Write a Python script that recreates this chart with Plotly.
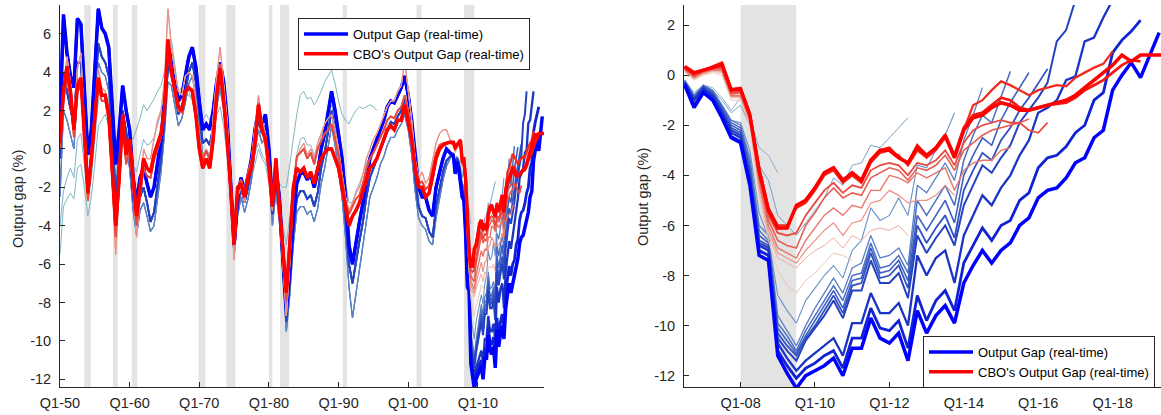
import numpy as np
import plotly.graph_objects as go

# ---------------- data ----------------
HIST_START, HIST_STEP = 1950.0, 0.5        # semi-annual history 1950.0 .. 2006.0
RECENT_START, RECENT_STEP = 2006.5, 0.25   # quarterly vintages from 2006Q3

# history segments (Output gap, %)
hist_blue_latest = [1.5, 7.0, 5.0, 3.8, 3.2, 6.8, 6.5, 3.0, -0.3, 1.0,
                    4.5, 7.3, 6.3, 6.0, 5.3, 2.5, -0.8, 1.0, 3.3, 2.0,
                    1.0, -1.5, -2.8, -1.5, -1.0, -1.8, -2.5, -2.0, -0.8, 0.5,
                    2.5, 5.3, 4.8, 3.5, 2.5, 2.8, 3.8, 4.8, 5.3, 4.3,
                    2.5, 1.0, 1.3, 1.0, 2.0, 3.5, 4.5, 3.5, 1.5, -1.5,
                    -5.0, -2.5, -1.5, -2.3, -1.5, -0.5, 1.0, 2.0, 1.3, 1.8,
                    0.0, -2.8, -1.0, -2.5, -5.5, -8.3, -6.3, -3.5, -1.8, -1.3,
                    -1.2, -1.6, -1.3, -2.0, -1.2, 0.0, 0.8, 2.0, 3.0, 2.0,
                    0.8, -0.5, -2.5, -5.0, -6.0, -4.8, -3.8, -2.8, -1.5, -0.5,
                    0.0, 0.5, 1.0, 1.5, 2.2, 2.5, 2.4, 2.8, 3.2, 3.8,
                    2.8, 1.5, -0.5, -2.0, -2.5, -2.5, -3.2, -3.5, -2.0, -1.2,
                    -0.5, 0.0, -0.2]
hist_blue_mid = [-0.5, 4.0, 3.0, 2.0, 1.2, 4.5, 4.5, 1.5, -1.8, -0.3,
                 2.8, 5.5, 4.8, 4.5, 3.8, 1.0, -2.5, -0.5, 2.0, 0.8,
                 -0.2, -2.5, -3.8, -2.5, -2.0, -2.8, -3.8, -3.3, -1.8, -0.5,
                 1.5, 4.3, 4.0, 2.8, 1.8, 2.2, 3.0, 4.0, 4.5, 3.5,
                 1.8, 0.3, 0.5, 0.2, 1.2, 2.8, 3.8, 2.8, 0.8, -2.2,
                 -5.3, -3.0, -2.0, -2.8, -2.0, -1.0, 0.5, 1.5, 0.8, 1.2,
                 -0.6, -3.4, -1.6, -3.2, -6.2, -9.0, -7.0, -4.3, -2.6, -2.2,
                 -2.2, -2.6, -2.4, -3.0, -2.3, -1.0, -0.2, 1.0, 2.0, 1.0,
                 -0.3, -1.6, -3.6, -6.0, -7.0, -5.8, -4.8, -3.8, -2.5, -1.5,
                 -1.0, -0.6, 0.0, 0.4, 1.0, 1.4, 1.3, 1.7, 2.0, 2.6,
                 1.8, 0.5, -1.5, -3.0, -3.5, -3.6, -4.3, -4.6, -3.0, -2.0,
                 -1.2, -0.6, -0.4]
hist_blue_light = [-2.5, 2.0, 1.5, 0.8, 0.0, 3.0, 3.2, 0.5, -2.5, -1.0,
                   1.8, 4.5, 4.0, 3.8, 3.0, 0.2, -3.2, -1.2, 1.2, 0.0,
                   -1.0, -3.2, -4.5, -3.2, -2.8, -3.5, -4.3, -4.0, -2.5, -1.2,
                   0.8, 3.5, 3.3, 2.2, 1.2, 1.6, 2.4, 3.4, 3.8, 2.8,
                   1.2, -0.3, -0.1, -0.4, 0.6, 2.2, 3.2, 2.2, 0.2, -2.8,
                   -5.6, -3.5, -2.5, -3.3, -2.6, -1.6, -0.1, 1.0, 0.3, 0.6,
                   -1.2, -4.0, -2.2, -3.8, -6.8, -9.5, -7.6, -5.0, -3.3, -3.0,
                   -3.0, -3.4, -3.2, -3.8, -3.1, -1.8, -1.0, 0.2, 1.2, 0.2,
                   -1.2, -2.5, -4.6, -7.2, -8.8, -7.5, -6.2, -5.0, -3.6, -2.5,
                   -2.0, -1.5, -0.8, -0.4, 0.2, 0.6, 0.6, 1.0, 1.3, 1.8,
                   1.0, -0.3, -2.2, -3.6, -4.0, -4.2, -4.8, -5.0, -3.6, -2.5,
                   -1.6, -0.9, -0.5]
hist_teal_old = [-5.5, -3.0, -2.6, -2.3, -2.6, -1.0, -0.8, -2.0, -3.5, -2.5,
                 -0.8, 1.2, 1.5, 1.8, 1.2, 0.0, -1.5, 0.0, 1.5, 1.0,
                 0.8, 0.5, 1.0, 1.6, 2.3, 2.0, 2.3, 2.6, 3.0, 3.3,
                 4.0, 5.0, 5.7, 4.3, 3.0, 3.2, 3.5, 3.0, 2.5, 1.8,
                 1.2, 1.5, 1.8, 1.5, 2.0, 2.8, 3.0, 2.0, 0.0, -1.5,
                 -3.3, -2.5, -1.5, -1.8, -1.3, -0.8, -0.3, 0.3, -0.3, -0.6,
                 -1.2, -1.8, -1.5, -1.8, -2.0, -2.0, -0.8, 0.5, 1.8, 2.8,
                 3.0, 2.6, 2.7, 2.3, 2.6, 3.0, 3.5, 3.8, 4.1, 3.4,
                 2.5, 1.8, 1.5, 1.3, 1.7, 2.0, 2.2, 2.1, 2.2, 2.3,
                 2.2, 2.0]
hist_steel_old = [-4.0, -2.2, -1.5, -1.0, -1.5, 0.5, 0.8, -0.8, -2.5, -1.5,
                  0.5, 2.5, 2.8, 2.8, 2.0, 0.5, -2.0, -0.5, 1.0, 0.3,
                  0.0, -0.8, -1.2, -0.3, 0.5, 0.2, 0.3, 0.6, 1.2, 1.8,
                  2.5, 3.8, 4.2, 3.3, 2.2, 2.3, 2.8, 2.8, 2.6, 1.5,
                  0.0, -0.5, 0.0, -0.3, 0.5, 1.8, 2.2, 1.2, -0.5, -2.0,
                  -3.8, -2.8, -2.0, -2.5, -2.0, -1.5, -0.8, 0.0, -0.5, -0.8,
                  -1.8, -3.0, -2.3, -3.0, -4.0, -5.0, -3.5, -1.8, -0.3, 0.5,
                  0.6, 0.2, 0.2, -0.3, 0.0, 0.6, 1.2, 1.8, 2.3, 1.5,
                  0.5, -0.5, -1.8, -2.8, -2.8, -2.2, -1.8, -1.3, -0.8, -0.3,
                  0.0, 0.3, 0.6, 0.9, 1.2, 1.5, 1.3, 1.5, 1.6, 2.0,
                  1.3, 0.2, -1.5, -2.5]
hist_red_latest = [0.3, 3.0, 4.3, 3.0, 1.0, 3.3, 3.7, 1.0, -2.3, -0.5,
                   1.8, 3.7, 2.8, 2.8, 1.8, -1.0, -4.0, -1.5, 1.8, -0.3,
                   0.5, -1.5, -3.5, -2.0, -0.5, -1.0, -1.2, -0.3, 0.3, 0.8,
                   2.0, 5.7, 4.0, 3.0, 2.2, 2.0, 3.0, 3.2, 3.0, 1.8,
                   0.0, -1.0, -0.5, -1.0, 0.5, 2.8, 4.2, 2.5, 0.5, -2.0,
                   -5.0, -2.0, -1.8, -2.5, -1.5, -1.0, 0.3, 2.3, 1.0, 0.5,
                   -1.0, -3.0, -0.5, -3.0, -5.0, -7.5, -5.0, -2.0, -1.0, -1.2,
                   -1.0, -1.5, -1.2, -1.8, -1.0, -0.5, -0.2, 0.0, 0.0, -0.5,
                   -1.0, -2.0, -3.0, -4.0, -3.5, -3.2, -2.8, -2.2, -1.5, -1.0,
                   -0.8, -0.5, 0.0, 0.5, 1.0, 1.2, 1.0, 1.5, 1.5, 2.3,
                   1.5, 0.5, -1.0, -2.0, -2.0, -2.5, -2.3, -1.5, -0.5, 0.0,
                   0.2, 0.3, 0.35]
hist_red_mid = [0.0, 2.5, 3.8, 2.6, 0.6, 3.0, 3.4, 0.6, -2.7, -0.9,
                1.4, 3.3, 2.5, 2.5, 1.4, -1.5, -4.6, -2.0, 1.2, -0.8,
                0.0, -2.0, -4.0, -2.5, -1.0, -1.4, -1.5, -0.6, 0.0, 0.6,
                1.8, 5.4, 3.8, 2.8, 2.0, 1.9, 2.9, 3.2, 3.1, 2.0,
                0.3, -0.6, -0.1, -0.6, 0.9, 3.0, 4.4, 2.8, 0.8, -1.8,
                -4.8, -2.0, -1.6, -2.2, -1.2, -0.6, 0.7, 2.4, 1.2, 0.7,
                -0.7, -2.7, -0.5, -2.8, -5.2, -7.9, -5.3, -2.0, -0.4, -0.2,
                0.0, -0.5, -0.2, -0.8, 0.0, 0.4, 0.8, 1.0, 1.3, 0.5,
                -0.3, -1.5, -2.8, -3.4, -3.0, -2.6, -2.4, -1.8, -1.0, -0.5,
                -0.2, 0.2, 0.6, 1.0, 1.5, 1.7, 1.6, 2.0, 2.2, 2.8,
                2.0, 0.8, -0.9, -1.8, -1.7, -2.1, -1.9, -1.1, -0.2, 0.2,
                0.3, 0.3, 0.3]
hist_red_pale = [0.5, 3.3, 4.8, 3.5, 1.5, 4.2, 5.0, 1.5, -2.5, -0.5,
                 2.0, 4.2, 3.2, 3.0, 1.8, -1.5, -5.5, -2.0, 1.5, -0.5,
                 0.5, -2.0, -4.6, -2.5, 0.0, -0.5, -0.5, 0.5, 1.5, 2.0,
                 3.5, 7.3, 5.3, 4.0, 3.0, 2.8, 3.8, 4.0, 3.8, 2.5,
                 0.5, -0.5, 0.0, -0.5, 1.5, 3.8, 5.3, 3.5, 1.5, -1.5,
                 -5.8, -2.5, -2.0, -2.8, -1.5, -0.5, 1.0, 2.8, 1.5, 0.8,
                 -0.8, -3.2, -0.5, -3.2, -5.8, -8.7, -6.0, -2.5, -0.5, 0.0,
                 0.3, -0.3, 0.0, -0.5, 0.3, 0.8, 1.3, 1.6, 1.8, 1.0,
                 0.0, -1.3, -2.5, -3.2, -2.8, -2.3, -2.0, -1.3, -0.5, 0.0,
                 0.5, 0.8, 1.3, 1.8, 2.2, 2.5, 2.5, 3.0, 3.3, 4.6,
                 3.0, 1.5, -0.5, -1.5, -1.2, -1.8, -1.5, -0.5, 0.3, 0.8,
                 1.0, 1.0, 0.5]

# quarterly vintages, 2006Q3 onward (Output Gap, real-time)
og_v1 = [-0.2, -0.7, -0.4, -0.5, -0.9, -1.4, -0.9, -1.7, -2.9, -3.2, -3.9]
og_v2 = [-0.2, -0.8, -0.4, -0.6, -1.0, -1.5, -1.2, -2.0, -3.6, -4.2,
         -5.6, -6.0, -6.4, -5.9, -5.4, -4.9, -4.1, -4.4, -3.6, -3.5,
         -2.8, -2.9, -2.5, -2.1, -1.7]
og_v3 = [-0.25, -0.9, -0.5, -0.7, -1.2, -1.8, -1.9, -3.0, -5.5, -6.5,
         -8.8, -9.4, -9.9, -9.0, -8.5, -8.0, -7.6, -8.1, -7.0, -6.6,
         -5.3, -5.8, -5.6, -4.9, -5.6, -3.6, -3.7, -3.0, -2.4, -1.5]
og_v4 = [-0.2, -0.8, -0.4, -0.6, -1.2, -1.8, -2.0, -3.3, -6.0, -6.4,
         -9.6, -10.2, -10.8, -10.0, -9.3, -8.7, -8.1, -8.7, -7.7, -7.5,
         -6.4, -7.3, -7.2, -6.9, -7.6, -4.4, -4.7, -4.1, -3.5, -4.2,
         -2.6, -1.6, -0.5]
og_v5 = [-0.25, -0.85, -0.45, -0.65, -1.25, -1.9, -2.1, -3.5, -6.2, -6.6,
         -9.9, -10.4, -11.0, -10.2, -9.6, -9.0, -8.4, -9.0, -8.0, -7.9,
         -6.7, -7.7, -7.6, -7.2, -7.9, -5.0, -5.6, -5.0, -4.4, -5.2,
         -3.4, -2.4, -1.6, -1.9, -0.9, 0.15]
og_v6 = [-0.25, -0.9, -0.45, -0.7, -1.3, -2.0, -2.2, -3.7, -6.4, -6.7,
         -10.1, -10.6, -11.1, -10.4, -9.8, -9.2, -8.6, -9.3, -8.2, -8.1,
         -6.9, -7.9, -7.8, -7.4, -8.2, -5.6, -6.2, -5.6, -5.0, -5.9,
         -4.0, -3.2, -2.5, -2.8, -1.8, -1.1, -0.5, 0.1]
og_v7 = [-0.3, -0.95, -0.5, -0.75, -1.4, -2.1, -2.3, -3.9, -6.6, -6.8,
         -10.3, -10.8, -11.2, -10.5, -10.0, -9.4, -8.8, -9.5, -8.4, -8.3,
         -7.1, -8.1, -8.0, -7.6, -8.5, -6.0, -6.7, -6.1, -5.6, -6.5,
         -4.6, -3.8, -3.1, -3.4, -2.6, -2.1, -1.4, -0.9, -0.3, 0.25]
og_v8 = [-0.3, -1.0, -0.5, -0.8, -1.45, -2.2, -2.4, -4.0, -6.7, -6.9,
         -10.5, -11.0, -11.4, -10.6, -10.1, -9.6, -9.0, -9.7, -8.6, -8.6,
         -7.4, -8.3, -8.3, -7.9, -8.9, -6.4, -7.1, -6.5, -6.0, -6.8,
         -5.2, -4.4, -3.6, -3.9, -3.3, -2.8, -1.9, -1.4, -0.9, -0.3,
         1.35, 1.8, 3.0]
og_v9 = [-0.3, -1.0, -0.55, -0.85, -1.5, -2.3, -2.5, -4.1, -6.8, -7.0,
         -10.7, -11.3, -11.8, -11.4, -11.1, -10.8, -10.5, -11.2, -9.9, -9.9,
         -8.7, -9.5, -9.5, -9.1, -10.0, -7.2, -8.0, -7.3, -7.0, -8.3,
         -6.4, -5.6, -4.8, -5.2, -4.5, -4.0, -3.2, -2.6, -1.5, -1.3,
         -1.0, -0.2, -0.05, 1.35, 1.5, 2.3, 3.0]
og_v10 = [-0.35, -1.2, -0.65, -0.95, -1.65, -2.45, -2.65, -4.3, -7.0, -7.2,
          -11.0, -11.6, -12.1, -11.7, -11.5, -11.2, -11.0, -11.7, -10.5, -10.5,
          -9.3, -10.1, -10.2, -9.8, -10.9, -8.8, -9.8, -9.0, -8.6, -9.4,
          -7.5, -6.8, -6.1, -6.6, -6.0, -5.8, -5.0, -4.7, -3.7, -3.3,
          -3.2, -2.85, -2.3, -2.0, -1.0, -0.7, 0.9, 1.4, 1.75, 2.2]
og_v11 = [-0.4, -1.3, -0.7, -1.0, -1.7, -2.5, -2.7, -4.4, -7.2, -7.4,
          -11.2, -11.9, -12.5, -12.0, -11.8, -11.6, -11.3, -12.0, -10.9, -10.9,
          -9.7, -10.5, -10.7, -10.3, -11.4, -9.4, -10.3, -9.6, -9.2, -9.9,
          -8.3, -7.6, -7.0, -7.5, -7.0, -6.7, -6.0, -5.7, -4.9, -4.6,
          -4.5, -4.1, -3.5, -3.3, -2.5, -2.2, -0.6, 0.0, 0.5, -0.1, 0.8, 1.7]

# quarterly vintages, 2006Q3 onward (CBO's Output Gap, real-time)
cbo_v1 = [0.1, -0.2, 0.0, 0.1, 0.0, -1.0, -1.0, -2.0, -4.8, -6.6,
          -7.8, -8.4, -8.7, -8.2, -7.9, -7.5, -7.1, -7.2, -7.4]
cbo_v2 = [0.15, -0.15, 0.05, 0.15, 0.1, -0.9, -0.9, -1.9, -4.6, -6.4,
          -7.3, -7.5, -7.7, -7.3, -7.0, -6.8, -6.5, -6.9, -6.4, -6.6,
          -6.2, -6.1, -6.2, -6.0, -6.4]
cbo_v3 = [0.2, -0.1, 0.1, 0.2, 0.15, -0.85, -0.85, -1.8, -4.4, -6.2,
          -7.1, -7.3, -7.5, -7.0, -6.6, -6.2, -5.9, -6.4, -5.9, -5.8,
          -5.1, -5.0, -4.6, -4.8, -5.1, -5.0, -5.0, -4.8, -4.4, -4.8]
cbo_v4 = [0.2, -0.1, 0.1, 0.2, 0.2, -0.8, -0.8, -1.8, -4.3, -6.0,
          -6.9, -7.1, -7.3, -6.6, -6.1, -5.6, -5.3, -5.6, -5.2, -5.3,
          -4.6, -4.6, -4.0, -4.1, -4.3, -3.9, -4.1, -3.9, -3.7, -4.6,
          -3.8, -3.5, -3.4, -3.4, -3.0, -2.9]
cbo_v5 = [0.25, -0.05, 0.15, 0.25, 0.25, -0.75, -0.7, -1.7, -4.1, -5.8,
          -6.6, -6.8, -6.9, -6.0, -5.5, -4.9, -4.5, -4.9, -4.7, -4.8,
          -4.1, -3.9, -3.7, -3.8, -4.2, -3.7, -3.8, -3.6, -3.2, -3.8,
          -3.0, -2.7, -2.4, -2.2, -2.1, -2.0, -1.9, -1.75]
cbo_v6 = [0.3, 0.0, 0.2, 0.3, 0.3, -0.7, -0.65, -1.65, -4.0, -5.6,
          -6.3, -6.4, -6.3, -5.6, -5.1, -4.6, -4.3, -4.7, -4.4, -4.5,
          -3.8, -3.6, -3.5, -3.6, -4.0, -3.5, -3.6, -3.4, -3.0, -3.6,
          -2.7, -2.2, -2.0, -1.9, -1.8, -1.9, -1.9, -2.2, -2.3, -1.9]
cbo_v7 = [0.35, 0.1, 0.2, 0.35, 0.5, -0.55, -0.5, -1.5, -3.7, -5.3,
          -6.0, -6.0, -5.3, -5.1, -4.6, -4.0, -3.8, -4.3, -4.0, -4.3,
          -3.5, -3.1, -3.0, -3.2, -3.6, -3.0, -3.3, -3.0, -2.5, -3.3,
          -2.2, -1.2, -1.0, -0.6, -0.25, -0.4, -0.6, -0.8, -0.6, -0.5,
          -0.4, -0.45, -0.1, 0.1, 0.3, 0.45, 0.95]
cbo_v8 = [0.3, 0.05, 0.2, 0.3, 0.4, -0.6, -0.55, -1.6, -3.8, -5.4,
          -6.1, -6.1, -5.2, -5.0, -4.5, -3.9, -3.7, -4.2, -3.9, -4.2,
          -3.4, -3.0, -2.9, -3.3, -3.5, -2.8, -3.2, -2.9, -2.4, -3.2,
          -2.1, -1.6, -1.5, -1.2, -0.9, -1.0, -1.3, -1.4, -1.3, -1.2,
          -1.15, -1.1, -0.9, -0.6, -0.4, -0.2, 0.1, 0.4, 0.6, 0.55]
cbo_v9 = [0.35, 0.1, 0.2, 0.3, 0.45, -0.6, -0.55, -1.6, -3.8, -5.4,
          -6.1, -6.1, -5.2, -5.0, -4.5, -3.9, -3.7, -4.2, -3.9, -4.2,
          -3.4, -3.0, -3.0, -3.3, -3.5, -2.9, -3.2, -2.9, -2.4, -3.3,
          -2.2, -1.7, -1.6, -1.3, -1.1, -1.2, -1.4, -1.4, -1.3, -1.2,
          -1.1, -1.0, -0.8, -0.5, -0.2, 0.1, 0.4, 0.8, 0.55, 0.8,
          0.8, 0.8, 0.8]

# NBER recession shading (start, end)
recession_start = [1953.5, 1957.6, 1960.3, 1969.9, 1973.9, 1980.0, 1981.6, 1990.6, 2001.2, 2008.0]
recession_end = [1954.4, 1958.3, 1961.1, 1970.9, 1975.2, 1980.5, 1982.9, 1991.2, 2001.9, 2009.5]

left_ticks = [1950, 1960, 1970, 1980, 1990, 2000, 2010]
left_ticktext = ["Q1-50", "Q1-60", "Q1-70", "Q1-80", "Q1-90", "Q1-00", "Q1-10"]
right_ticks = [2008, 2010, 2012, 2014, 2016, 2018]
right_ticktext = ["Q1-08", "Q1-10", "Q1-12", "Q1-14", "Q1-16", "Q1-18"]
left_yticks = [-12, -10, -8, -6, -4, -2, 0, 2, 4, 6]
right_yticks = [-12, -10, -8, -6, -4, -2, 0, 2]

# ---------------- styling ----------------
BLUE_NAME = "Output Gap (real-time)"
RED_NAME = "CBO's Output Gap (real-time)"
FONT = "Liberation Sans, Arial, sans-serif"
INK = "#262626"

hist_only = [  # (values, color, width)
    (hist_teal_old, "#7cb8bd", 1.0),
    (hist_steel_old, "#86aecb", 1.0),
]
blue_vintages = [  # (recent, history, color, width)
    (og_v1, hist_blue_light, "#8fb3d1", 1.0),
    (og_v2, hist_blue_light, "#7ba2cb", 1.0),
    (og_v3, hist_blue_light, "#6b92c8", 1.1),
    (og_v4, hist_blue_light, "#5a80c6", 1.3),
    (og_v5, hist_blue_mid, "#4b6fc4", 1.5),
    (og_v6, hist_blue_mid, "#3e60c2", 1.6),
    (og_v7, hist_blue_mid, "#3252c0", 1.8),
    (og_v8, hist_blue_mid, "#2642c0", 2.0),
    (og_v9, hist_blue_latest, "#1c34c4", 2.3),
    (og_v10, hist_blue_latest, "#1022d4", 2.8),
    (og_v11, hist_blue_latest, "#0000ff", 3.5),
]
red_vintages = [
    (cbo_v1, hist_red_pale, "#ecc6b6", 1.0),
    (cbo_v2, hist_red_pale, "#edaea3", 1.0),
    (cbo_v3, hist_red_pale, "#eb9287", 1.2),
    (cbo_v4, hist_red_mid, "#e8776c", 1.4),
    (cbo_v5, hist_red_mid, "#e65e54", 1.6),
    (cbo_v6, hist_red_mid, "#e84a40", 1.8),
    (cbo_v7, hist_red_latest, "#f02c22", 2.3),
    (cbo_v8, hist_red_latest, "#f81610", 2.8),
    (cbo_v9, hist_red_latest, "#ff0000", 3.5),
]


def hist_x(vals):
    return list(HIST_START + HIST_STEP * np.arange(len(vals)))


def recent_x(vals):
    return list(RECENT_START + RECENT_STEP * np.arange(len(vals)))


fig = go.Figure()


def add_line(x, y, color, width, axes, name=None, legend=None):
    xa, ya = axes
    fig.add_trace(go.Scatter(
        x=x, y=y, mode="lines", xaxis=xa, yaxis=ya,
        line=dict(color=color, width=width),
        name=name if name else "", showlegend=legend is not None,
        legend=legend if legend else "legend", hoverinfo="skip"))


# left panel: full history
for vals, color, width in hist_only:
    add_line(hist_x(vals), vals, color, width, ("x", "y"))

groups = [(blue_vintages, BLUE_NAME), (red_vintages, RED_NAME)]
for vintages, nm in groups:
    for k, (rec, hist, color, width) in enumerate(vintages):
        x = hist_x(hist) + recent_x(rec)
        y = list(hist) + list(rec)
        last = k == len(vintages) - 1
        add_line(x, y, color, width, ("x", "y"), name=nm, legend="legend" if last else None)

# right panel: zoom on the Great Recession
for vintages, nm in groups:
    for k, (rec, hist, color, width) in enumerate(vintages):
        last = k == len(vintages) - 1
        add_line(recent_x(rec), rec, color, width, ("x2", "y2"), name=nm,
                 legend="legend2" if last else None)

# recession bars
LEFT_RANGE = [1950.0, 2019.5]
RIGHT_RANGE = [2006.48, 2019.3]
shapes = []
for s, e in zip(recession_start, recession_end):
    shapes.append(dict(type="rect", xref="x", yref="y domain", x0=s, x1=e, y0=0, y1=1,
                       fillcolor="#e3e3e3", line=dict(width=0), layer="below"))
    if e > RIGHT_RANGE[0]:
        shapes.append(dict(type="rect", xref="x2", yref="y2 domain", x0=max(s, RIGHT_RANGE[0]), x1=e,
                           y0=0, y1=1, fillcolor="#e3e3e3", line=dict(width=0), layer="below"))

W, H = 1161, 415
TICKFONT = dict(family=FONT, size=14.5, color=INK)
ax_common = dict(showline=True, linecolor=INK, linewidth=1, ticks="inside", ticklen=5,
                 tickcolor=INK, showgrid=False, zeroline=False, mirror=False,
                 automargin=False, tickfont=TICKFONT)
y_dom = [(H - 387) / H, (H - 5) / H]
LEGEND_STYLE = dict(xanchor="left", yanchor="top", bgcolor="white", bordercolor=INK,
                    borderwidth=1, itemwidth=44, tracegroupgap=0,
                    font=dict(family=FONT, size=13, color="#000000"))

fig.update_layout(
    template="none",
    width=W, height=H, margin=dict(l=0, r=0, t=0, b=0, pad=0),
    paper_bgcolor="white", plot_bgcolor="white",
    font=dict(family=FONT, size=13, color=INK),
    shapes=shapes,
    xaxis=dict(domain=[60 / W, 544 / W], range=LEFT_RANGE, tickvals=left_ticks,
               ticktext=left_ticktext, anchor="y", ticklabelstandoff=3, **ax_common),
    yaxis=dict(domain=y_dom, range=[-12.4, 7.5], tickvals=left_yticks,
               ticktext=[str(v) for v in left_yticks], anchor="x", ticklabelstandoff=5, **ax_common),
    xaxis2=dict(domain=[684 / W, 1.0], range=RIGHT_RANGE, tickvals=right_ticks,
                ticktext=right_ticktext, anchor="y2", ticklabelstandoff=3, **ax_common),
    yaxis2=dict(domain=y_dom, range=[-12.45, 2.8], tickvals=right_yticks,
                ticktext=[str(v) for v in right_yticks], anchor="x2", ticklabelstandoff=5, **ax_common),
    legend=dict(x=298 / W, y=1 - 18 / H, **LEGEND_STYLE),
    legend2=dict(x=923 / W, y=1 - 336 / H, **LEGEND_STYLE),
    annotations=[
        dict(text="Output gap (%)", xref="paper", yref="paper", x=18 / W, y=1 - 199 / H,
             xanchor="center", yanchor="middle",
             textangle=-90, showarrow=False, font=dict(family=FONT, size=14.5, color=INK)),
        dict(text="Output gap (%)", xref="paper", yref="paper", x=643 / W, y=1 - 197 / H,
             xanchor="center", yanchor="middle",
             textangle=-90, showarrow=False, font=dict(family=FONT, size=14.5, color=INK)),
    ],
)

fig.write_html("out.html", config={"displayModeBar": False, "staticPlot": False},
               post_script="document.body.style.margin='0px';")
